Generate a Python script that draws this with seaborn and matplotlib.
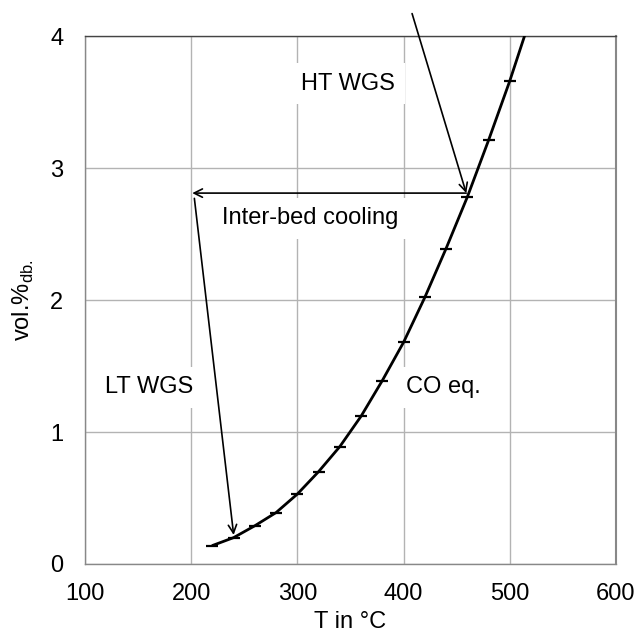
import numpy as np
import pandas as pd
import matplotlib
matplotlib.use("Agg")
import matplotlib.pyplot as plt
import seaborn as sns

# ======================
# Data
# ======================

temp_c = [220, 240, 260, 280, 300, 320, 340, 360, 380, 400, 420, 440, 460, 480, 500, 520]
co_eq = [0.14, 0.20, 0.29, 0.39, 0.53, 0.70, 0.89, 1.12, 1.39, 1.68, 2.02, 2.39, 2.78, 3.21, 3.66, 4.15]

# process path: HT WGS end -> cooling -> LT WGS end
ht_start = (408, 4.17)
ht_end = (459, 2.81)
cool_end = (201, 2.81)
lt_start = (203, 2.77)
lt_end = (240, 0.22)

labels = ["HT WGS", "Inter-bed cooling", "LT WGS", "CO eq."]
label_pos = [(348, 3.64), (312, 2.62), (160, 1.34), (437, 1.34)]

df = pd.DataFrame({"T": temp_c, "CO": co_eq})

# ======================
# Style
# ======================

sns.set_style("white")
plt.rcParams["font.family"] = ["Liberation Sans", "DejaVu Sans"]
plt.rcParams["mathtext.fontset"] = "custom"
plt.rcParams["mathtext.rm"] = "Liberation Sans"
plt.rcParams["text.color"] = "black"
plt.rcParams["axes.labelcolor"] = "black"
plt.rcParams["xtick.color"] = "black"
plt.rcParams["ytick.color"] = "black"

fig = plt.figure(figsize=(6.38, 6.32), dpi=100)
ax = fig.add_axes([0.1332, 0.1076, 0.8323, 0.8354])

# ======================
# Curve
# ======================

sns.lineplot(data=df, x="T", y="CO", ax=ax, color="black", linewidth=2.0,
             marker="_", markersize=9, markeredgewidth=1.6,
             markeredgecolor="black", zorder=3)

# ======================
# Arrows
# ======================

arrow = dict(arrowstyle="->", color="black", lw=1.2, mutation_scale=15,
             shrinkA=0, shrinkB=0)
ax.annotate("", xy=ht_end, xytext=ht_start, arrowprops=arrow,
            annotation_clip=False, zorder=4)
ax.annotate("", xy=cool_end, xytext=ht_end, arrowprops=arrow, zorder=4)
ax.annotate("", xy=lt_end, xytext=lt_start, arrowprops=arrow, zorder=4)

for txt, (x, y) in zip(labels, label_pos):
    ax.text(x, y, txt, fontsize=17, ha="center", va="center", zorder=2,
            bbox=dict(boxstyle="square,pad=0.4", fc="white", ec="none"))

# ======================
# Axes
# ======================

ax.set_xlim(100, 600)
ax.set_ylim(0, 4)
ax.set_xticks([100, 200, 300, 400, 500, 600])
ax.set_yticks([0, 1, 2, 3, 4])
ax.grid(True, color="#b3b3b3", linewidth=1.0, zorder=0)
ax.set_axisbelow(True)
for s in ax.spines.values():
    s.set_color("#888888")
    s.set_linewidth(1.0)
ax.spines["top"].set_color("#444444")
ax.spines["right"].set_linewidth(1.5)
ax.tick_params(length=0, labelsize=17)
ax.tick_params(axis="x", pad=14)
ax.tick_params(axis="y", pad=15.5)
ax.set_xlabel("T in °C", fontsize=17, labelpad=4)
ax.set_ylabel(r"vol.%$_\mathregular{db.}$", fontsize=17, labelpad=10)

fig.savefig("out.png", dpi=100)
